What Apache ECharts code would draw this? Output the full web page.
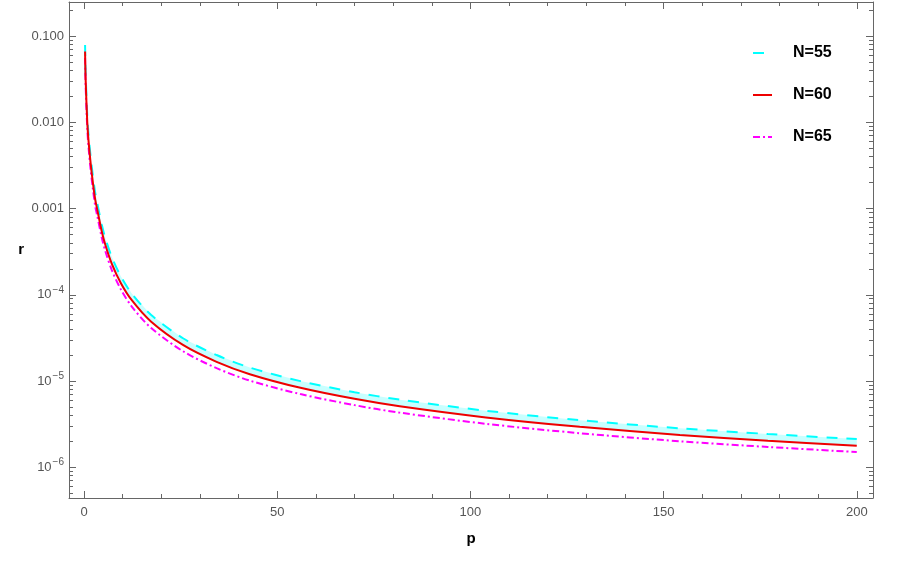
<!DOCTYPE html>
<html>
<head>
<meta charset="utf-8">
<script src="https://cdn.jsdelivr.net/npm/echarts@6/dist/echarts.min.js"></script>
<style>html,body{margin:0;padding:0;background:#fff}#c{width:900px;height:563px}</style>
</head>
<body>
<div id="c"></div>
<script>
// ---- data ----
const pVals = [0.26, 0.41, 0.83, 1.14, 1.68, 2.28, 2.9, 3.3, 4.57, 5.5, 7.16, 9.5, 12.3, 17.3, 25.7, 34.3, 42.9, 56, 70, 81.7, 104, 128.3, 154.2, 177, 200];
const rN55 = [0.0789, 0.0370, 0.01195, 0.00741, 0.00406, 0.00239, 0.00151, 0.00123, 6.51e-4, 4.54e-4, 2.75e-4, 1.64e-4, 1.04e-4, 5.86e-5, 3.11e-5, 2.0e-5, 1.43e-5, 9.97e-6, 7.42e-6, 6.08e-6, 4.52e-6, 3.51e-6, 2.83e-6, 2.43e-6, 2.12e-6];
const rN60 = [0.066, 0.031, 0.0100, 0.0062, 0.0034, 0.0020, 0.00126, 0.00103, 5.45e-4, 3.8e-4, 2.3e-4, 1.37e-4, 8.7e-5, 4.9e-5, 2.6e-5, 1.67e-5, 1.2e-5, 8.34e-6, 6.21e-6, 5.09e-6, 3.78e-6, 2.94e-6, 2.37e-6, 2.03e-6, 1.77e-6];
const rN65 = [0.0558, 0.0262, 0.00845, 0.00524, 0.00287, 0.00169, 0.00106, 8.7e-4, 4.61e-4, 3.21e-4, 1.94e-4, 1.16e-4, 7.35e-5, 4.14e-5, 2.2e-5, 1.41e-5, 1.01e-5, 7.05e-6, 5.25e-6, 4.3e-6, 3.19e-6, 2.48e-6, 2.0e-6, 1.72e-6, 1.5e-6];
const seriesNames = ['N=55', 'N=60', 'N=65'];
const xMajorTicks = [0, 50, 100, 150, 200];
const xMinorTicks = [10, 20, 30, 40, 60, 70, 80, 90, 110, 120, 130, 140, 160, 170, 180, 190];
const yMajorTicks = [1e-6, 1e-5, 1e-4, 1e-3, 1e-2, 1e-1];

const X_MIN = -3.9, X_MAX = 204.2, Y_MIN = 4.4e-7, Y_MAX = 0.248;
const yMinorTicks = [];
for (let k = -7; k <= -1; k++) {
  for (let m = 2; m <= 9; m++) {
    const v = m * Math.pow(10, k);
    if (v >= Y_MIN && v <= Y_MAX) yMinorTicks.push(v);
  }
}

const frameColor = '#666';
const labelFont = '"Liberation Sans", Arial, sans-serif';

function pairs(arr) { return pVals.map((p, i) => [p, arr[i]]); }

function yLabel(v) {
  if (v >= 1e-3 - 1e-12) return v.toFixed(3);
  const e = Math.round(Math.log10(v));
  return '{b|10}{s|\u2212' + (-e) + '}';
}

function xAxisDef(pos, ticks, len, showLabel, showLine, name) {
  return {
    type: 'value', position: pos, min: X_MIN, max: X_MAX,
    name: name || '', nameLocation: 'middle', nameGap: 33,
    nameTextStyle: { color: '#000', fontWeight: 'bold', fontSize: 15, fontFamily: labelFont },
    axisLine: { show: showLine, onZero: false, lineStyle: { color: frameColor, width: 1 } },
    axisTick: { show: true, inside: true, length: len, customValues: ticks, lineStyle: { color: frameColor, width: 1 } },
    axisLabel: { show: showLabel, customValues: ticks, margin: 8, color: '#555', fontSize: 13, fontFamily: labelFont },
    splitLine: { show: false }
  };
}
function yAxisDef(pos, ticks, len, showLabel, showLine, name) {
  return {
    type: 'log', logBase: 10, position: pos, min: Y_MIN, max: Y_MAX,
    name: name || '', nameLocation: 'middle', nameGap: 45, nameRotate: 0,
    nameTextStyle: { color: '#000', fontWeight: 'bold', fontSize: 15, fontFamily: labelFont },
    axisLine: { show: showLine, onZero: false, lineStyle: { color: frameColor, width: 1 } },
    axisTick: { show: true, inside: true, length: len, customValues: ticks, lineStyle: { color: frameColor, width: 1 } },
    axisLabel: {
      show: showLabel, customValues: ticks, margin: 5, color: '#555', fontSize: 13, fontFamily: labelFont,
      formatter: yLabel,
      rich: {
        b: { fontSize: 13, color: '#555', fontFamily: labelFont },
        s: { fontSize: 10, color: '#555', fontFamily: labelFont, padding: [0, 0, 9, 1] }
      }
    },
    splitLine: { show: false }
  };
}

const chart = echarts.init(document.getElementById('c'), null, { renderer: 'canvas' });
chart.setOption({
  animation: false,
  backgroundColor: '#fff',
  grid: { left: 69, right: 27, top: 2, bottom: 65, containLabel: false },
  xAxis: [
    xAxisDef('bottom', xMajorTicks, 7, true, true, 'p'),
    xAxisDef('bottom', xMinorTicks, 4, false, false),
    xAxisDef('top', xMajorTicks, 7, false, true),
    xAxisDef('top', xMinorTicks, 4, false, false)
  ],
  yAxis: [
    yAxisDef('left', yMajorTicks, 7, true, true, 'r'),
    yAxisDef('left', yMinorTicks, 4, false, false),
    yAxisDef('right', yMajorTicks, 7, false, true),
    yAxisDef('right', yMinorTicks, 4, false, false)
  ],
  legend: {
    data: seriesNames, orient: 'vertical', left: 752, top: 45, padding: 0,
    itemWidth: 19, itemHeight: 12, itemGap: 26,
    itemStyle: { color: 'rgba(0,0,0,0)', borderWidth: 0, opacity: 0 },
    textStyle: { color: '#000', fontWeight: 'bold', fontSize: 16, fontFamily: labelFont, padding: [0, 0, 0, 16] }
  },
  series: [
    {
      type: 'custom', name: 'band', xAxisIndex: 0, yAxisIndex: 0, silent: true, z: 1,
      data: [[pVals[10], rN60[10]]],
      renderItem: function (params, api) {
        const pts = [];
        for (let i = 0; i < pVals.length; i++) pts.push(api.coord([pVals[i], rN55[i]]));
        for (let i = pVals.length - 1; i >= 0; i--) pts.push(api.coord([pVals[i], rN60[i]]));
        return { type: 'polygon', shape: { points: pts }, style: { fill: '#c8ffff' } };
      }
    },
    {
      type: 'line', name: seriesNames[0], data: pairs(rN55), showSymbol: false, symbol: 'none',
      smooth: 0.3, z: 3,
      lineStyle: { color: '#00ffff', width: 2, type: [11, 9] }, itemStyle: { color: '#00ffff' }
    },
    {
      type: 'line', name: seriesNames[1], data: pairs(rN60), showSymbol: false, symbol: 'none',
      smooth: 0.3, z: 4,
      lineStyle: { color: '#ee0000', width: 2, type: 'solid' }, itemStyle: { color: '#ee0000' }
    },
    {
      type: 'line', name: seriesNames[2], data: pairs(rN65), showSymbol: false, symbol: 'none',
      smooth: 0.3, z: 3,
      lineStyle: { color: '#ff00ff', width: 2, type: [7, 3, 2, 3] }, itemStyle: { color: '#ff00ff' }
    }
  ]
});
</script>
</body>
</html>
